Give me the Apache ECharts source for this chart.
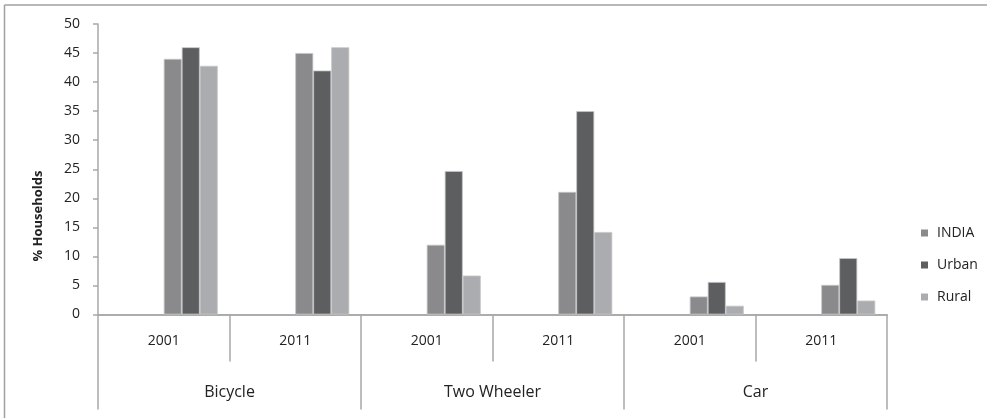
<!DOCTYPE html>
<html>
<head>
<meta charset="utf-8">
<script src="https://cdn.jsdelivr.net/npm/echarts@6/dist/echarts.min.js"></script>
<style>
html,body{margin:0;padding:0;background:#fff;}
#chart{width:987px;height:418px;}
</style>
</head>
<body>
<div id="chart"></div>
<script>
var years = ['2001', '2011', '2001', '2011', '2001', '2011'];
var groups = ['Bicycle', 'Two Wheeler', 'Car'];
var seriesNames = ['INDIA', 'Urban', 'Rural'];
var india = [44, 45, 12, 21.1, 3.1, 5.1];
var urban = [46, 42, 24.7, 35, 5.6, 9.7];
var rural = [42.8, 46, 6.7, 14.2, 1.5, 2.4];
var colors = ['#8a8a8c', '#5d5e60', '#abacaf'];
var yTicks = {min: 0, max: 50, interval: 5};

var chart = echarts.init(document.getElementById('chart'));
var FONT = '"Open Sans", sans-serif';
var axisGray = '#a8a8a8';

function emptySeries() {
  return {type: 'bar', data: years.map(function(){return '-';}), barWidth: 18, barGap: '0%', silent: true, xAxisIndex: 0};
}
var valueArrays = [india, urban, rural];
var series = [emptySeries(), emptySeries(), emptySeries()];
seriesNames.forEach(function(n, i){
  series.push({
    name: n, type: 'bar', data: valueArrays[i], barWidth: 18, barGap: '0%', xAxisIndex: 0,
    itemStyle: {color: colors[i], borderColor: '#c6c6c8', borderWidth: 0.8}
  });
});

chart.setOption({
  animation: false,
  grid: {left: 98, right: 100, top: 24, bottom: 103.5},
  legend: {
    data: seriesNames.map(function(n, i){ return {name: n, itemStyle: {color: colors[i], borderWidth: 0}}; }),
    orient: 'vertical', left: 916, top: 221, icon: 'rect', itemWidth: 7, itemHeight: 7, itemGap: 18,
    textStyle: {fontFamily: FONT, fontSize: 14, color: '#222', padding: [0, 0, 0, 4]}
  },
  xAxis: [{
    type: 'category', data: years, position: 'bottom',
    axisLine: {lineStyle: {color: axisGray, width: 1.5}},
    axisTick: {show: true, length: 47, interval: 0, lineStyle: {color: axisGray, width: 1.5}},
    axisLabel: {interval: 0, margin: 20, fontFamily: FONT, fontSize: 14, color: '#222'},
    splitLine: {show: false}
  }, {
    type: 'category', data: groups, position: 'bottom',
    axisLine: {lineStyle: {color: axisGray, width: 1.5}},
    axisTick: {show: true, length: 95, interval: 0, lineStyle: {color: axisGray, width: 1.5}},
    axisLabel: {interval: 0, margin: 70, fontFamily: FONT, fontSize: 16, color: '#222'},
    splitLine: {show: false}
  }],
  yAxis: {
    type: 'value', min: yTicks.min, max: yTicks.max, interval: yTicks.interval,
    axisLine: {show: true, lineStyle: {color: axisGray, width: 1.5}},
    axisTick: {show: true, length: 5, lineStyle: {color: axisGray, width: 1.5}},
    axisLabel: {margin: 18, fontFamily: FONT, fontSize: 14, color: '#222'},
    splitLine: {show: false}
  },
  graphic: [
    {type: 'line', shape: {x1: 4.5, y1: 5, x2: 987, y2: 5}, style: {stroke: '#a0a0a0', lineWidth: 1.5}},
    {type: 'line', shape: {x1: 4.5, y1: 5, x2: 4.5, y2: 418}, style: {stroke: '#a0a0a0', lineWidth: 1.5}},
    {type: 'text', x: 38, y: 216, rotation: Math.PI / 2,
     style: {text: '% Households', fontFamily: FONT, fontSize: 13, fontWeight: 'bold', fill: '#222', textAlign: 'center', textVerticalAlign: 'middle'}}
  ],
  series: series
});
</script>
</body>
</html>
